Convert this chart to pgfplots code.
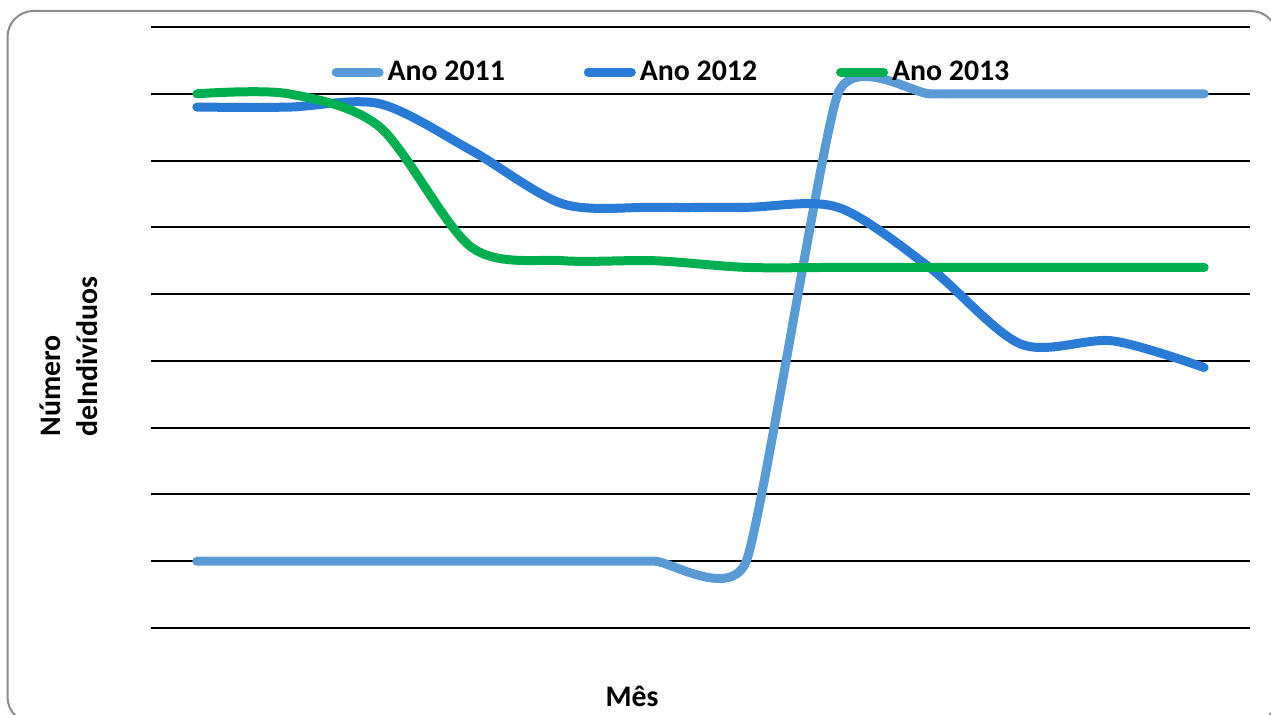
\documentclass[border=0pt]{standalone}
\usepackage{fontspec}
\setmainfont{Carlito}
\usepackage{pgfplots}
\pgfplotsset{compat=1.18}

\definecolor{c2011}{HTML}{5B9BD5}
\definecolor{c2012}{HTML}{2A7BD5}
\definecolor{c2013}{HTML}{00B050}
\definecolor{frame}{HTML}{8C8C8C}

% monthly counts per year
\pgfplotstableread{
mes a2011 a2012 a2013
1   1.0   7.80  8.00
2   1.0   7.80  8.00
3   1.0   7.85  7.50
4   1.0   7.15  5.70
5   1.0   6.35  5.50
6   1.0   6.30  5.50
7   1.0   6.30  5.40
8   8.0   6.30  5.40
9   8.0   5.40  5.40
10  8.0   4.25  5.40
11  8.0   4.30  5.40
12  8.0   3.90  5.40
}\dados

\begin{document}
\begin{tikzpicture}[x=0.5pt,y=0.5pt]
\useasboundingbox (0,0) rectangle (1271,715);
\begin{scope}
  \clip (0,0) rectangle (1271,715);
  \draw[frame, line width=1pt, rounded corners=13pt] (7.5,704) rectangle (1277,-8);
\end{scope}

\begin{axis}[
  at={(75.5pt,43.5pt)}, anchor=south west,
  scale only axis, width=549.5pt, height=300.5pt,
  xmin=0.5, xmax=12.5, ymin=0, ymax=9,
  xtick=\empty, ytick={0,1,...,9}, yticklabels={},
  major tick length=0pt,
  ymajorgrids, grid style={black, line width=1pt},
  axis line style={draw=none},
  clip=false,
  every axis plot/.append style={line width=4.5pt, line cap=round, line join=round, smooth},
  legend columns=3,
  legend image code/.code={\draw[#1, line cap=round] (0pt,0pt) -- (21.5pt,0pt);},
  legend style={draw=none, fill=none, at={(0.4745,0.925)}, anchor=center,
    font=\bfseries\fontsize{14.9}{17}\selectfont,
    /tikz/every odd column/.append style={column sep=0pt},
    /tikz/every even column/.append style={column sep=37.5pt}},
]
\addplot[c2011, tension=0.3] table[x=mes, y=a2011] {\dados};
\addlegendentry{Ano 2011}
\addplot[c2012] table[x=mes, y=a2012] {\dados};
\addlegendentry{Ano 2012}
\addplot[c2013] table[x=mes, y=a2013] {\dados};
\addlegendentry{Ano 2013}
\end{axis}

\node[rotate=90, anchor=north west, align=left, inner sep=0pt,
      font=\bfseries\fontsize{14.9}{18.5}\selectfont] at (40,278) {Número\\deIndivíduos};
\node[anchor=base, inner sep=0pt, font=\bfseries\fontsize{14.9}{17}\selectfont] at (632,8) {Mês};
\end{tikzpicture}
\end{document}
